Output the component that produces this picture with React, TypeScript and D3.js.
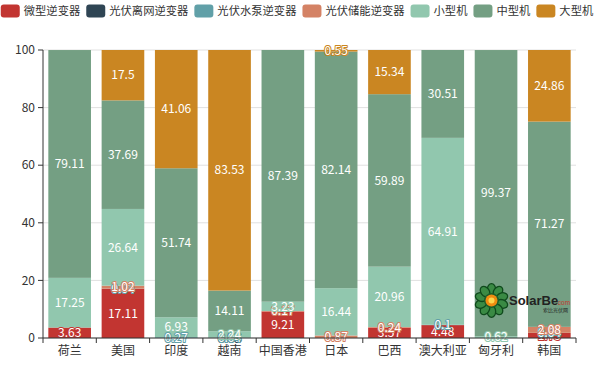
import * as d3 from "d3";

const categories = ["荷兰", "美国", "印度", "越南", "中国香港", "日本", "巴西", "澳大利亚", "匈牙利", "韩国"];
const seriesNames = ["微型逆变器", "光伏离网逆变器", "光伏水泵逆变器", "光伏储能逆变器", "小型机", "中型机", "大型机"];
const seriesColors = ["#c23531", "#2f4554", "#61a0a8", "#d48265", "#91c7ae", "#749f83", "#ca8622"];

const micro = [3.63, 17.11, 0, 0, 9.21, 0, 3.57, 4.48, 0, 1.75];
const offGrid = [0, 0, 0, 0.08, 0, 0, 0, 0, 0, 0];
const pump = [0, 0.04, 0.27, 0.04, 0, 0, 0, 0.1, 0, 0.04];
const storage = [0, 1.02, 0, 0, 0.17, 0.87, 0.24, 0, 0, 2.08];
const small = [17.25, 26.64, 6.93, 2.24, 3.23, 16.44, 20.96, 64.91, 0.62, 0];
const medium = [79.11, 37.69, 51.74, 14.11, 87.39, 82.14, 59.89, 30.51, 99.37, 71.27];
const large = [0, 17.5, 41.06, 83.53, 0, 0.55, 15.34, 0, 0, 24.86];

const yTicks = [0, 20, 40, 60, 80, 100];

const W = 600;
const H = 366;
const margin = { top: 50, right: 24, bottom: 28, left: 43 };
const FONT = "'Noto Sans CJK SC', 'Noto Sans', sans-serif";

export default function App() {
  const values = [micro, offGrid, pump, storage, small, medium, large];
  const rows = categories.map((c, i) => {
    const r: Record<string, number | string> = { cat: c };
    seriesNames.forEach((s, k) => (r[s] = values[k][i]));
    return r;
  });
  const stacked = d3.stack<Record<string, number | string>>().keys(seriesNames)(rows as any);

  const x = d3
    .scaleBand()
    .domain(categories)
    .range([margin.left, W - margin.right])
    .paddingInner(0.2)
    .paddingOuter(0.1);
  const y = d3.scaleLinear().domain([0, 100]).range([H - margin.bottom, margin.top]);

  const boundaries = d3
    .range(categories.length + 1)
    .map((i) => margin.left + i * ((W - margin.right - margin.left) / categories.length));

  // legend layout (text width fixed per character so the row stays centred)
  const iconW = 19;
  const iconH = 13;
  const textGap = 4;
  const itemGap = 6;
  const charW = 11.3;
  const widths = seriesNames.map((s) => iconW + textGap + s.length * charW);
  const total = d3.sum(widths) + itemGap * (seriesNames.length - 1);
  let lx = (W - total) / 2 - 3;
  const legendItems = seriesNames.map((s, i) => {
    const item = { name: s, x: lx, color: seriesColors[i] };
    lx += widths[i] + itemGap;
    return item;
  });

  return (
    <svg width={W} height={H} style={{ position: "absolute", left: 0, top: 0, fontFamily: FONT }}>
      <rect width={W} height={H} fill="#fff" />
      {/* legend */}
      {legendItems.map((it) => (
        <g key={it.name}>
          <rect x={it.x} y={4.5} width={iconW} height={iconH} rx={3} fill={it.color} />
          <text
            x={it.x + iconW + textGap}
            y={11}
            dy="0.35em"
            fontSize={11.3}
            fill="#333"
            textLength={it.name.length * charW}
            lengthAdjust="spacingAndGlyphs"
          >
            {it.name}
          </text>
        </g>
      ))}

      {/* grid */}
      {yTicks.map((t) => (
        <line key={t} x1={margin.left} x2={W - margin.right} y1={y(t)} y2={y(t)} stroke="#e0e0e0" strokeWidth={1} />
      ))}

      {/* bars */}
      {stacked.map((layer, k) => (
        <g key={layer.key} fill={seriesColors[k]}>
          {layer.map((d, i) =>
            d[1] - d[0] > 0 ? (
              <rect
                key={i}
                x={x(categories[i])}
                width={x.bandwidth()}
                y={y(d[1])}
                height={Math.max(0, y(d[0]) - y(d[1]))}
              />
            ) : null
          )}
        </g>
      ))}

      {/* watermark */}
      <g transform="translate(491.5,300.5)">
        {d3.range(10).map((i) => (
          <ellipse
            key={i}
            cx={0}
            cy={-11}
            rx={4.2}
            ry={5.8}
            fill="#3a8a44"
            stroke="#0f4a1c"
            strokeWidth={1.3}
            transform={`rotate(${i * 36})`}
          />
        ))}
        <circle r={7.5} fill="#1d5e2a" />
        <circle r={6} fill="#f08c10" />
        <circle r={3} fill="#ffd54a" />
      </g>
      <text x={509} y={305} fontSize={13} fontWeight="bold" fill="#222" fontFamily="'Liberation Sans', Arial, sans-serif">
        SolarBe
      </text>
      <text x={556} y={305} fontSize={6.5} fill="#c0392b" fontFamily="'Liberation Sans', Arial, sans-serif">
        .com
      </text>
      <text x={543} y={312} fontSize={5} fill="#222">
        索比光伏网
      </text>

      {/* labels */}
      {stacked.map((layer, k) => (
        <g key={layer.key}>
          {layer.map((d, i) =>
            d[1] - d[0] > 0 ? (
              <text
                key={i}
                x={(x(categories[i]) ?? 0) + x.bandwidth() / 2}
                y={(y(d[0]) + y(d[1])) / 2}
                dy="0.35em"
                textAnchor="middle"
                fontSize={12}
                fill="#fff"
                stroke={seriesColors[k]}
                strokeWidth={2}
                paintOrder="stroke"
                strokeLinejoin="round"
              >
                {+(d[1] - d[0]).toFixed(2)}
              </text>
            ) : null
          )}
        </g>
      ))}

      {/* y axis */}
      <line x1={margin.left} x2={margin.left} y1={y(0)} y2={y(100)} stroke="#333" />
      {yTicks.map((t) => (
        <g key={t}>
          <line x1={margin.left - 5} x2={margin.left} y1={y(t)} y2={y(t)} stroke="#333" />
          <text x={margin.left - 8} y={y(t)} dy="0.35em" textAnchor="end" fontSize={12} fill="#333">
            {t}
          </text>
        </g>
      ))}

      {/* x axis */}
      <line x1={margin.left} x2={W - margin.right} y1={y(0)} y2={y(0)} stroke="#333" />
      {boundaries.map((b, i) => (
        <line key={i} x1={b} x2={b} y1={y(0)} y2={y(0) + 5} stroke="#333" />
      ))}
      {categories.map((c) => (
        <text
          key={c}
          x={(x(c) ?? 0) + x.bandwidth() / 2}
          y={y(0) + 13}
          dy="0.35em"
          textAnchor="middle"
          fontSize={12}
          fill="#333"
        >
          {c}
        </text>
      ))}
    </svg>
  );
}
